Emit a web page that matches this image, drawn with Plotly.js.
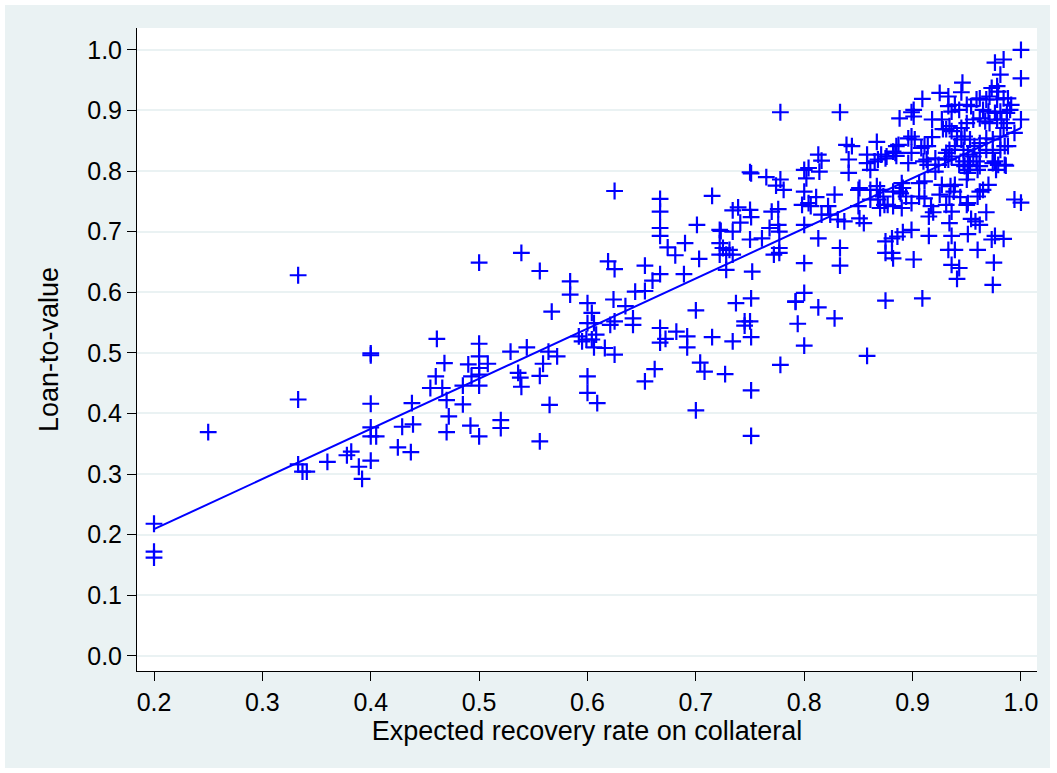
<!DOCTYPE html>
<html>
<head>
<meta charset="utf-8">
<script src="https://cdn.plot.ly/plotly-3.0.1.min.js"></script>
<style>
  html, body { margin: 0; padding: 0; background: #ffffff; }
  #chart { position: absolute; left: 5px; top: 5px; width: 1045px; height: 763px; }
</style>
</head>
<body>
<div id="chart"></div>
<script>
// Expected recovery rate on collateral (x)
const recovery = [
  0.2,0.2,0.2,0.25,0.333,0.333,0.333,0.337,0.341,0.36,
  0.378,0.382,0.389,0.392,0.4,0.4,0.4,0.4,0.4,0.405,
  0.4,0.425,0.429,0.438,0.439,0.437,0.455,0.46,0.461,0.5,
  0.539,0.556,0.584,0.584,0.6,0.604,0.619,0.625,0.644,0.635,
  0.624,0.625,0.621,0.642,0.642,0.567,0.6,0.606,0.592,0.595,
  0.599,0.604,0.608,0.606,0.616,0.625,0.5,0.5,0.5,0.5,
  0.5,0.493,0.49,0.508,0.468,0.466,0.47,0.485,0.485,0.472,
  0.47,0.492,0.5,0.52,0.52,0.529,0.544,0.536,0.538,0.539,
  0.556,0.559,0.564,0.572,0.565,0.556,0.6,0.6,0.609,0.625,
  0.667,0.667,0.667,0.667,0.674,0.681,0.69,0.701,0.703,0.689,
  0.667,0.66,0.653,0.653,0.715,0.722,0.723,0.734,0.722,0.722,
  0.728,0.734,0.725,0.731,0.728,0.734,0.739,0.741,0.75,0.751,
  0.75,0.751,0.75,0.752,0.761,0.765,0.774,0.778,0.781,0.77,
  0.776,0.768,0.776,0.777,0.772,0.777,0.777,0.653,0.662,0.667,
  0.667,0.672,0.682,0.692,0.692,0.7,0.715,0.734,0.737,0.745,
  0.75,0.745,0.751,0.751,0.704,0.708,0.727,0.7,0.751,0.751,
  0.778,0.792,0.794,0.778,0.833,0.8,0.804,0.802,0.813,0.816,
  0.814,0.8,0.798,0.804,0.806,0.811,0.828,0.822,0.816,0.824,
  0.831,0.837,0.8,0.8,0.813,0.833,0.833,0.839,0.844,0.841,
  0.841,0.858,0.858,0.867,0.865,0.868,0.861,0.875,0.884,0.887,
  0.885,0.888,0.896,0.899,0.899,0.901,0.901,0.899,0.902,0.85,
  0.851,0.861,0.867,0.87,0.85,0.861,0.868,0.873,0.874,0.877,
  0.87,0.882,0.888,0.882,0.89,0.894,0.899,0.89,0.891,0.851,
  0.855,0.875,0.881,0.886,0.891,0.899,0.875,0.881,0.882,0.901,
  0.8,0.792,0.813,0.828,0.8,0.875,0.858,0.909,0.974,0.975,
  0.941,0.943,0.936,0.933,0.939,0.96,0.915,0.936,0.951,0.973,
  0.976,0.984,0.934,0.915,0.919,0.954,0.958,0.962,0.968,0.931,
  0.936,0.95,0.917,0.906,0.911,0.889,0.925,0.934,0.938,0.944,
  0.935,0.939,0.927,0.906,0.911,0.951,0.95,0.951,0.948,0.953,
  0.96,0.962,0.965,0.97,0.96,0.977,0.986,0.976,0.994,1.0,
  0.914,0.913,0.921,0.951,1.0,0.976,0.984,0.981,1.0,0.946,
  0.945,0.973,0.978,0.979,0.925,0.933,0.909,0.918,0.927,0.939,
  0.933,0.936,0.943,0.95,0.954,0.959,0.962,0.968,0.971,0.978,
  0.984,0.988,0.991,0.99,0.987,0.981,0.976,0.97,0.965,1.0,
  0.994,0.984,0.981,0.974,0.968,0.962,0.957,0.953,0.948,0.945,
  0.95,0.956,0.962,0.967,0.971,0.978,0.982,0.987,0.968,0.974,
  0.981,0.985,0.988,0.947,0.951,0.956,0.962,0.959,0.947,0.943,
  0.962,0.974,0.979,0.985,0.931,0.934,0.936,0.928,0.941,0.945,
  0.939,0.934,0.931,0.936,0.933,0.93,0.896,0.918,0.911,0.914,
  0.908,0.885,0.882,0.876,0.871,0.91,0.921,0.924
];

// Loan-to-value (y)
const ltv = [
  0.218,0.172,0.162,0.369,0.628,0.423,0.316,0.304,0.304,0.32,
  0.331,0.337,0.312,0.292,0.499,0.496,0.416,0.377,0.362,0.362,
  0.322,0.344,0.378,0.417,0.382,0.336,0.442,0.461,0.523,0.649,
  0.665,0.635,0.618,0.596,0.582,0.566,0.651,0.638,0.601,0.577,
  0.588,0.552,0.546,0.557,0.546,0.568,0.549,0.549,0.527,0.519,
  0.522,0.522,0.530,0.509,0.508,0.497,0.515,0.494,0.475,0.464,
  0.446,0.461,0.481,0.482,0.483,0.442,0.422,0.446,0.415,0.395,
  0.369,0.38,0.362,0.389,0.376,0.502,0.509,0.467,0.459,0.444,
  0.462,0.482,0.502,0.494,0.414,0.354,0.461,0.434,0.417,0.767,
  0.754,0.733,0.706,0.693,0.674,0.661,0.681,0.711,0.655,0.63,
  0.63,0.619,0.644,0.602,0.759,0.703,0.701,0.7,0.681,0.662,
  0.662,0.662,0.673,0.67,0.637,0.735,0.74,0.715,0.736,0.724,
  0.798,0.796,0.687,0.634,0.689,0.79,0.776,0.786,0.769,0.733,
  0.737,0.706,0.711,0.7,0.662,0.665,0.673,0.453,0.473,0.541,
  0.517,0.523,0.535,0.527,0.509,0.57,0.526,0.519,0.582,0.552,
  0.552,0.545,0.59,0.526,0.484,0.469,0.465,0.405,0.438,0.363,
  0.48,0.584,0.548,0.897,0.897,0.802,0.805,0.788,0.827,0.817,
  0.799,0.766,0.744,0.747,0.742,0.757,0.761,0.742,0.728,0.728,
  0.72,0.717,0.711,0.648,0.689,0.673,0.644,0.843,0.841,0.819,
  0.797,0.827,0.813,0.848,0.816,0.819,0.802,0.821,0.83,0.843,
  0.825,0.887,0.813,0.83,0.897,0.901,0.89,0.857,0.852,0.769,
  0.772,0.769,0.775,0.769,0.742,0.753,0.753,0.758,0.744,0.744,
  0.739,0.766,0.766,0.742,0.739,0.758,0.747,0.78,0.772,0.722,
  0.714,0.684,0.689,0.692,0.699,0.703,0.665,0.665,0.656,0.654,
  0.599,0.585,0.575,0.557,0.512,0.586,0.495,0.59,0.612,0.649,
  0.622,0.64,0.645,0.67,0.67,0.67,0.693,0.693,0.696,0.687,
  0.693,0.688,0.714,0.725,0.732,0.721,0.717,0.711,0.732,0.744,
  0.733,0.744,0.742,0.758,0.755,0.763,0.761,0.758,0.766,0.757,
  0.775,0.777,0.777,0.78,0.783,0.747,0.786,0.802,0.808,0.81,
  0.802,0.766,0.769,0.777,0.758,0.802,0.809,0.816,0.753,0.748,
  0.81,0.819,0.799,0.797,1.0,0.979,0.984,0.959,0.953,0.946,
  0.93,0.937,0.94,0.931,0.929,0.923,0.919,0.885,0.885,0.909,
  0.907,0.898,0.901,0.909,0.907,0.918,0.92,0.918,0.923,0.918,
  0.92,0.92,0.909,0.901,0.896,0.898,0.896,0.898,0.901,0.885,
  0.863,0.871,0.857,0.852,0.854,0.846,0.841,0.852,0.857,0.871,
  0.879,0.885,0.887,0.882,0.879,0.885,0.885,0.879,0.835,0.83,
  0.835,0.841,0.841,0.835,0.827,0.824,0.83,0.816,0.816,0.81,
  0.808,0.813,0.81,0.81,0.869,0.874,0.866,0.869,0.857,0.852,
  0.841,0.835,0.83,0.824,0.819,0.819,0.854,0.856,0.841,0.841,
  0.838,0.841,0.832,0.824,0.827,0.816,0.821,0.81
];

// Fitted line endpoints
const fitX = [0.2, 1.0];
const fitY = [0.209, 0.871];

const xTicks = [0.2, 0.3, 0.4, 0.5, 0.6, 0.7, 0.8, 0.9, 1.0];
const yTicks = [0.0, 0.1, 0.2, 0.3, 0.4, 0.5, 0.6, 0.7, 0.8, 0.9, 1.0];
const xTitle = 'Expected recovery rate on collateral';
const yTitle = 'Loan-to-value';

const BLUE = '#0000ff';
const BG = '#eaf2f3';

const traces = [
  {
    x: recovery, y: ltv, type: 'scatter', mode: 'markers',
    marker: { symbol: 'cross-thin', size: 12, color: BLUE, line: { width: 2.2, color: BLUE } },
    hoverinfo: 'x+y', showlegend: false
  },
  {
    x: fitX, y: fitY, type: 'scatter', mode: 'lines',
    line: { color: BLUE, width: 2 }, showlegend: false
  }
];

const layout = {
  width: 1045, height: 763,
  margin: { l: 132, r: 13, t: 23, b: 97 },
  paper_bgcolor: BG,
  plot_bgcolor: '#ffffff',
  font: { family: 'Liberation Sans, Arial, Helvetica, sans-serif', size: 25, color: '#000000' },
  showlegend: false,
  xaxis: {
    range: [0.1843, 1.0148],
    tickvals: xTicks, tickformat: '.1f',
    ticks: 'outside', ticklen: 9, tickwidth: 1, tickcolor: '#000000',
    showline: true, linecolor: '#000000', linewidth: 1,
    showgrid: false, zeroline: false,
    title: { text: xTitle, standoff: 4, font: { size: 27 } },
    automargin: false
  },
  yaxis: {
    range: [-0.025, 1.036],
    tickvals: yTicks, tickformat: '.1f',
    ticks: 'outside', ticklen: 9, tickwidth: 1, tickcolor: '#000000',
    showline: true, linecolor: '#000000', linewidth: 1,
    showgrid: true, gridcolor: BG, gridwidth: 2,
    zeroline: false,
    title: { text: yTitle, standoff: 20, font: { size: 27 } },
    automargin: false
  }
};

Plotly.newPlot('chart', traces, layout, { displayModeBar: false, staticPlot: true });
</script>
</body>
</html>
